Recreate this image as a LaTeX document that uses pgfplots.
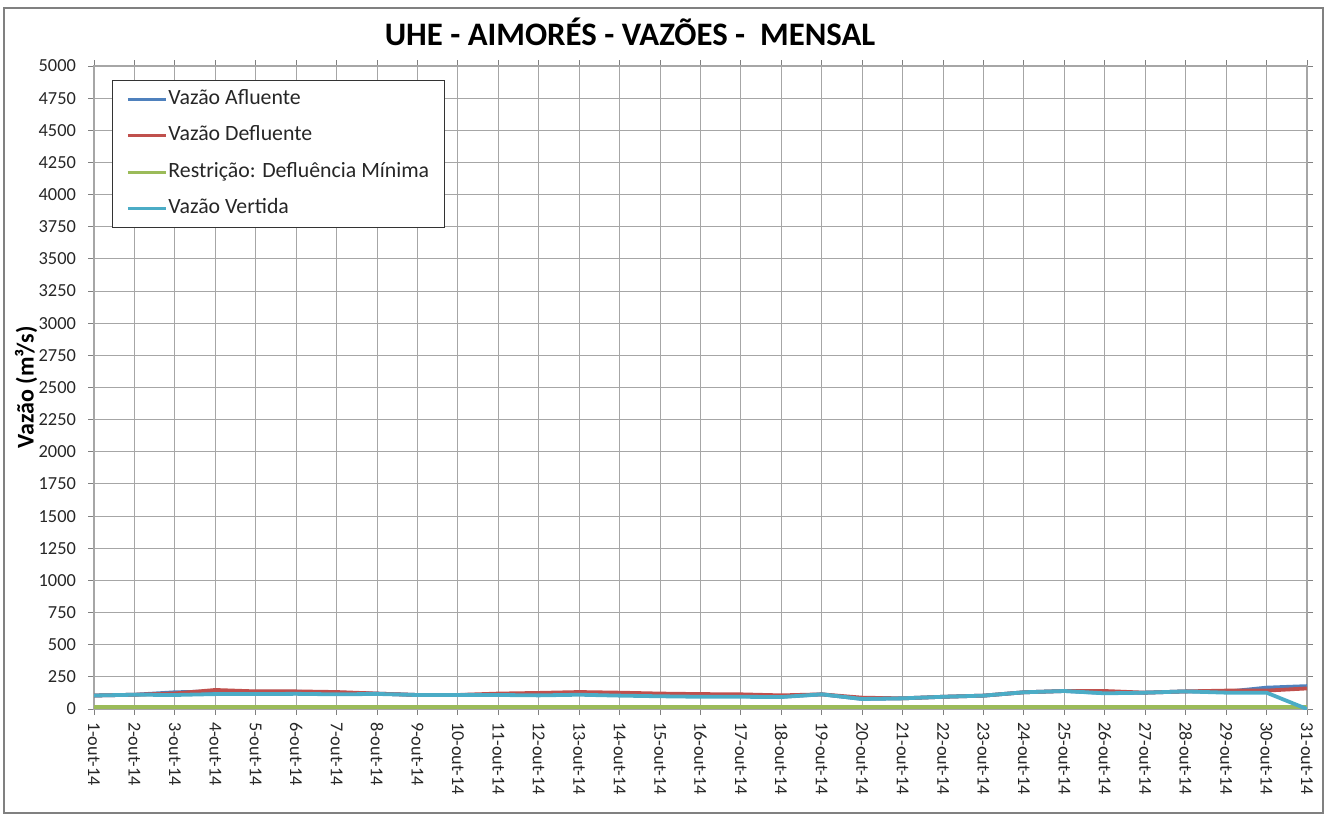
\documentclass[border=0pt]{standalone}
\usepackage{fontspec}
\setmainfont{Carlito}
\usepackage{pgfplots}
\usepackage{pgfplotstable}
\pgfplotsset{compat=1.18}
\definecolor{cafl}{HTML}{4F81BD}
\definecolor{cdef}{HTML}{C0504D}
\definecolor{cres}{HTML}{9BBB59}
\definecolor{cver}{HTML}{4BACC6}
\pgfplotstableread{
day afl def res ver
1 105 105 15 105
2 111 111 15 111
3 130 121 15 109
4 137 148 15 116
5 134 137 15 116
6 134 137 15 118
7 127 132 15 114
8 120 120 15 117
9 109 109 15 109
10 109 109 15 109
11 113 120 15 109
12 113 125 15 106
13 122 132 15 111
14 111 127 15 104
15 103 120 15 99
16 101 116 15 95
17 101 114 15 95
18 96 106 15 93
19 114 114 15 114
20 78 88 15 78
21 83 83 15 83
22 95 95 15 95
23 104 104 15 104
24 130 130 15 130
25 140 140 15 140
26 124 140 15 122
27 127 127 15 127
28 137 137 15 137
29 134 143 15 127
30 166 143 15 127
31 178 160 15 0
}\data
\begin{document}
\begin{tikzpicture}[x=1pt,y=1pt]
\useasboundingbox (0,0) rectangle (664,408);
\draw[black!50, line width=0.7pt] (2,1.5) rectangle (661.5,404);
\node[font=\bfseries\fontsize{16.4}{19}\selectfont, anchor=base] at (315,385) {UHE - AIMORÉS - VAZÕES -\ \ MENSAL};
\begin{axis}[
  at={(47pt,53.5pt)}, anchor=south west,
  scale only axis, width=606.5pt, height=321.5pt,
  xmin=1, xmax=31, ymin=0, ymax=5000,
  xtick={1,...,31},
  xticklabels={1-out-14,2-out-14,3-out-14,4-out-14,5-out-14,6-out-14,7-out-14,8-out-14,9-out-14,10-out-14,11-out-14,12-out-14,13-out-14,14-out-14,15-out-14,16-out-14,17-out-14,18-out-14,19-out-14,20-out-14,21-out-14,22-out-14,23-out-14,24-out-14,25-out-14,26-out-14,27-out-14,28-out-14,29-out-14,30-out-14,31-out-14},
  xticklabel style={rotate=-90, anchor=west, font=\fontsize{9.1}{10}\selectfont, text=black!85},
  ytick={0,250,...,5000},
  yticklabel style={font=\fontsize{9.2}{10}\selectfont, text=black!85, xshift=-2.5pt},
  /pgf/number format/assume math mode=true,
  /pgf/number format/1000 sep={},
  scaled y ticks=false,
  tick align=outside, major tick length=3pt,
  tick style={black!50, line width=0.5pt},
  grid=major, grid style={gray!70, line width=0.5pt},
  axis line style={gray!70, line width=0.6pt},
  ylabel={Vazão (m³/s)},
  ylabel style={font=\bfseries\fontsize{12}{14}\selectfont, at={(axis description cs:-0.056,0.5)}, anchor=center},
  legend style={at={(axis description cs:0.0148,0.978)}, anchor=north west, draw=black!80, line width=0.5pt,
    font=\fontsize{10.9}{12}\selectfont, row sep=8.25pt, inner xsep=7pt, inner ysep=4.4pt, text=black!85,
    nodes={inner xsep=0.5pt, inner ysep=0pt, text height=7.5pt, text depth=2.5pt},
    /tikz/every even column/.append style={column sep=0pt}},
  legend cell align=left,
  legend image code/.code={\draw[#1, line width=1.5pt] (2pt,0pt) -- (21pt,0pt);},
]
\addplot[cafl, line width=1.9pt] table[x=day, y=afl] {\data};
\addlegendentry{Vazão Afluente}
\addplot[cdef, line width=1.9pt] table[x=day, y=def] {\data};
\addlegendentry{Vazão Defluente}
\addplot[cres, line width=1.9pt] table[x=day, y=res] {\data};
\addlegendentry{Restrição: Defluência Mínima}
\addplot[cver, line width=1.9pt] table[x=day, y=ver] {\data};
\addlegendentry{Vazão Vertida}
\end{axis}
\end{tikzpicture}
\end{document}
